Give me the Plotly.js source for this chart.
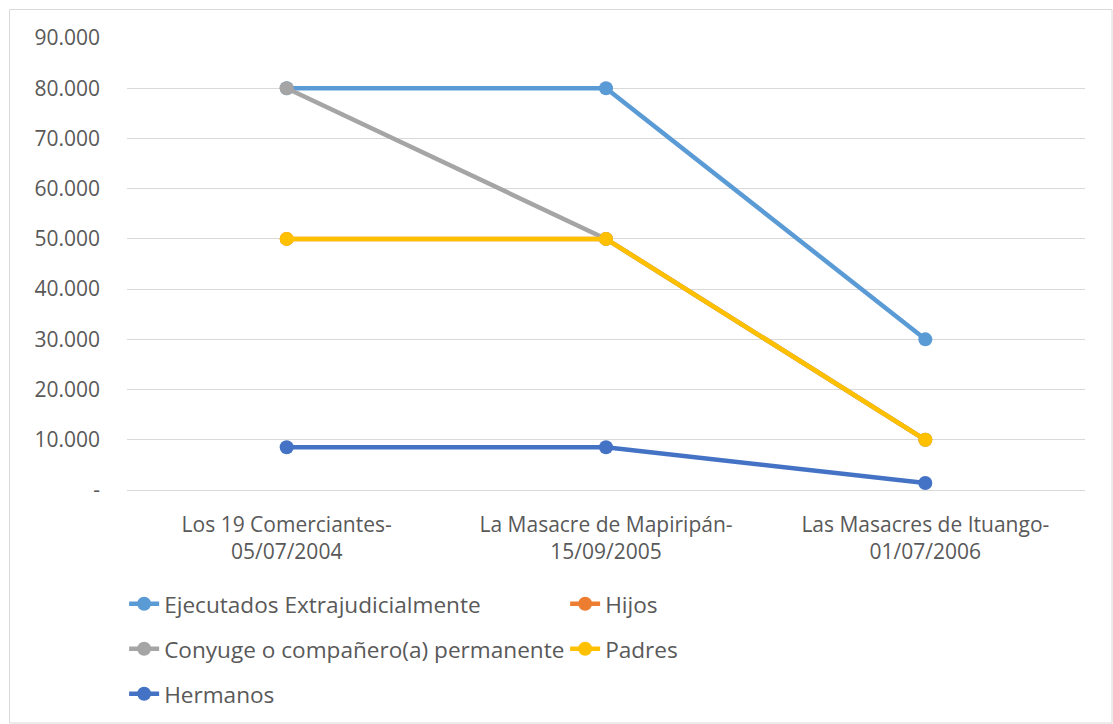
<!DOCTYPE html>
<html>
<head>
<meta charset="utf-8">
<script src="https://cdn.plot.ly/plotly-3.0.1.min.js"></script>
<style>
html,body{margin:0;padding:0;background:#fff;}
#chart{width:1113px;height:724px;}
</style>
</head>
<body>
<div id="chart"></div>
<script>
const categories = ["Los 19 Comerciantes-<br>05/07/2004", "La Masacre de Mapiripán-<br>15/09/2005", "Las Masacres de Ituango-<br>01/07/2006"];
const ejecutados = [80000, 80000, 30000];
const hijos = [50000, 50000, 10000];
const conyuge = [80000, 50000, 10000];
const padres = [50000, 50000, 10000];
const hermanos = [8500, 8500, 1400];
const seriesNames = ["Ejecutados Extrajudicialmente", "Hijos", "Conyuge o compañero(a) permanente", "Padres", "Hermanos"];
const yTickVals = [0, 10000, 20000, 30000, 40000, 50000, 60000, 70000, 80000, 90000];
const yTickText = ["-", "10.000", "20.000", "30.000", "40.000", "50.000", "60.000", "70.000", "80.000", "90.000"];

const colors = ["#5B9BD5", "#ED7D31", "#A5A5A5", "#FFC000", "#4472C4"];
const values = [ejecutados, hijos, conyuge, padres, hermanos];
const legendIds = ["legend", "legend", "legend2", "legend2", "legend3"];
const xIdx = [0, 1, 2];

const traces = values.map((v, i) => ({
  type: "scatter",
  mode: "lines+markers",
  name: seriesNames[i],
  x: xIdx,
  y: v,
  line: {color: colors[i], width: 4.5},
  marker: {color: colors[i], size: 14},
  legend: legendIds[i],
  hoverinfo: "y+name"
}));

const fontFam = "'Open Sans', 'Noto Sans', sans-serif";
const tickSize = 21;
const legSize = 22.6;
const legendBase = {
  orientation: "h",
  xanchor: "left",
  yanchor: "middle",
  x: -0.003,
  entrywidth: 396,
  entrywidthmode: "pixels",
  font: {family: fontFam, size: legSize, color: "#595959"},
  bgcolor: "rgba(0,0,0,0)",
  itemwidth: 30,
  tracegroupgap: 0
};

const plotW = 1113 - 127 - 28;
const plotH = 724 - 38 - 234;
function px2paperX(p){ return (p - 127) / plotW; }
function px2paperY(p){ return (724 - 234 - p) / plotH; }

const layout = {
  width: 1113,
  height: 724,
  margin: {l: 127, r: 28, t: 38, b: 234, autoexpand: false},
  paper_bgcolor: "#ffffff",
  plot_bgcolor: "#ffffff",
  font: {family: fontFam, size: tickSize, color: "#595959"},
  showlegend: true,
  xaxis: {
    range: [-0.5, 2.5],
    tickvals: xIdx,
    ticktext: categories,
    showgrid: false,
    zeroline: false,
    showline: false,
    ticks: "",
    ticklabelstandoff: 20,
    tickfont: {family: fontFam, size: tickSize, color: "#595959"},
    fixedrange: true,
    automargin: false
  },
  yaxis: {
    range: [0, 90000],
    tickvals: yTickVals,
    ticktext: yTickText,
    showgrid: true,
    gridcolor: "#D9D9D9",
    gridwidth: 1,
    zeroline: true,
    zerolinecolor: "#D9D9D9",
    zerolinewidth: 1,
    showline: false,
    ticks: "",
    ticklabelstandoff: 26,
    tickfont: {family: fontFam, size: tickSize, color: "#595959"},
    fixedrange: true,
    automargin: false
  },
  legend: Object.assign({}, legendBase, {y: px2paperY(604)}),
  legend2: Object.assign({}, legendBase, {y: px2paperY(649)}),
  legend3: Object.assign({}, legendBase, {y: px2paperY(694)}),
  shapes: [{
    type: "rect",
    xref: "paper", yref: "paper",
    x0: px2paperX(9.5), x1: px2paperX(1112),
    y0: px2paperY(723), y1: px2paperY(9.5),
    line: {color: "#D9D9D9", width: 1},
    fillcolor: "rgba(0,0,0,0)",
    layer: "below"
  }]
};

Plotly.newPlot("chart", traces, layout, {displayModeBar: false, staticPlot: true});
</script>
</body>
</html>
